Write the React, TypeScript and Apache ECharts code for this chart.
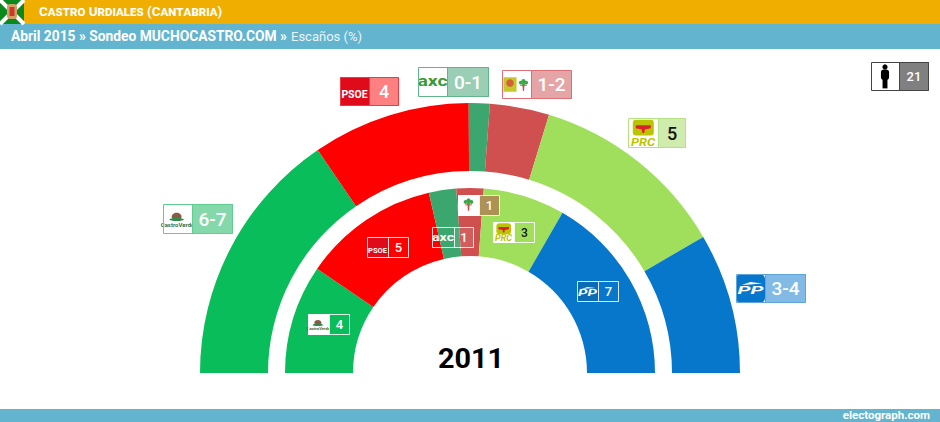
import React, { useEffect, useRef } from "react";
import * as echarts from "echarts";

const parties = ["Castro Verde", "PSOE", "AxC", "Otros", "PRC", "PP"];
const colors = ["#09BD5A", "#FF0000", "#3BA76F", "#D05050", "#A0DF5C", "#0777CC"];
const pollShare = [30.9, 18.9, 2.5, 7.1, 23.7, 16.8];
const seats2011 = [4, 5, 1, 1, 3, 7];
const pollLabels = ["6-7", "4", "0-1", "1-2", "5", "3-4"];
const title = "Castro Urdiales (Cantabria)";
const subtitleBold = "Abril 2015 » Sondeo MUCHOCASTRO.COM »";
const subtitleLight = "Escaños (%)";
const totalSeats = "21";
const baseYear = "2011";
const credit = "electograph.com";

const FONT = "Roboto, 'Noto Sans', sans-serif";
const ORANGE = "#F0AE00";
const BLUE = "#62B4CF";

type G = any;
const rect = (x: number, y: number, w: number, h: number, fill: string, stroke?: string, r = 0, lw = 1): G => ({
  type: "rect",
  shape: { x, y, width: w, height: h, r },
  style: { fill, stroke: stroke ?? "none", lineWidth: stroke ? lw : 0 },
  silent: true,
});
const text = (x: number, y: number, t: string, size: number, fill: string, o: any = {}): G => ({
  type: "text",
  x,
  y,
  scaleX: o.scaleX ?? 1,
  silent: true,
  style: {
    text: t,
    fill,
    align: o.align ?? "center",
    verticalAlign: "middle",
    ...(o.font
      ? { font: o.font }
      : {
          fontSize: size,
          fontFamily: FONT,
          fontWeight: o.weight ?? 700,
          fontStyle: o.italic ? "italic" : "normal",
        }),
  },
});
const circle = (cx: number, cy: number, r: number, fill: string): G => ({
  type: "circle",
  shape: { cx, cy, r },
  style: { fill },
  silent: true,
});
const poly = (pts: number[][], fill: string): G => ({
  type: "polygon",
  shape: { points: pts },
  style: { fill },
  silent: true,
});

// logos drawn in a w x h box with origin x,y
const logoPSOE = (x: number, y: number, w: number, h: number): G[] => [
  rect(x, y, w, h, "#DF0B1A"),
  text(x + w / 2, y + h * 0.62, "PSOE", h * 0.36, "#fff"),
];
const logoAxC = (x: number, y: number, w: number, h: number, small: boolean): G[] => [
  ...(small ? [] : [rect(x, y, w, h, "#fff")]),
  text(x + w / 2, y + h * (small ? 0.5 : 0.46), "axc", h * (small ? 0.52 : 0.48), small ? "#fff" : "#3A9A35", { scaleX: small ? 1.3 : 1.35 }),
];
const tree = (cx: number, cy: number, s: number): G[] => [
  poly([[cx - s * 0.12, cy], [cx + s * 0.12, cy], [cx + s * 0.06, cy + s * 0.75], [cx - s * 0.06, cy + s * 0.75]], "#E0454A"),
  rect(cx - s * 0.35, cy + s * 0.1, s * 0.7, s * 0.1, "#E0454A"),
  circle(cx - s * 0.3, cy - s * 0.15, s * 0.2, "#3CA548"),
  circle(cx + s * 0.3, cy - s * 0.15, s * 0.2, "#3CA548"),
  circle(cx, cy - s * 0.3, s * 0.22, "#3CA548"),
  circle(cx, cy, s * 0.16, "#3CA548"),
];
const logoOtros = (x: number, y: number, w: number, h: number): G[] => [
  rect(x, y, w, h, "#fff"),
  rect(x + 1.5, y + h * 0.25, h * 0.45, h * 0.5, "#C4C82A"),
  circle(x + 1.5 + h * 0.225, y + h * 0.45, h * 0.13, "#D2603A"),
  ...tree(x + w * 0.74, y + h * 0.48, h * 0.32),
];
const logoOtrosSmall = (x: number, y: number, w: number, h: number): G[] => [
  rect(x, y, w, h, "#fff"),
  ...tree(x + w / 2, y + h * 0.4, h * 0.46),
];
const logoPRC = (x: number, y: number, w: number, h: number): G[] => [
  rect(x, y, w, h, "#fff"),
  rect(x + w * 0.16, y + h * 0.06, w * 0.7, h * 0.52, "#BCC400", undefined, 3),
  poly(
    [[x + w * 0.26, y + h * 0.24], [x + w * 0.76, y + h * 0.24], [x + w * 0.76, y + h * 0.34], [x + w * 0.56, y + h * 0.38], [x + w * 0.54, y + h * 0.5], [x + w * 0.48, y + h * 0.5], [x + w * 0.46, y + h * 0.38], [x + w * 0.26, y + h * 0.34]],
    "#D8232A"
  ),
  text(x + w / 2, y + h * 0.79, "PRC", h * 0.39, "#BCC400", { italic: true, scaleX: 1.1 }),
];
const logoPP = (x: number, y: number, w: number, h: number, small: boolean): G[] => [
  small ? rect(x, y, w, h, "#0B6BB5") : rect(x, y, w, h, "#0777CC", undefined, 5),
  poly([[x + w * 0.2, y + h * 0.38], [x + w * 0.5, y + h * 0.28], [x + w * 0.9, y + h * 0.33], [x + w * 0.5, y + h * 0.36]], "#fff"),
  text(x + w / 2, y + h * 0.56, "PP", h * 0.4, "#fff", { italic: true, scaleX: 1.8 }),
];
const logoCV = (x: number, y: number, w: number, h: number): G[] => [
  rect(x, y, w, h, "#fff"),
  { type: "ellipse", shape: { cx: x + w * 0.47, cy: y + h * 0.42, rx: w * 0.17, ry: h * 0.13 }, style: { fill: "#8A5A44" }, silent: true },
  { type: "ellipse", shape: { cx: x + w * 0.47, cy: y + h * 0.52, rx: w * 0.25, ry: h * 0.05 }, style: { fill: "#2E8B4A" }, silent: true },
  text(x + w / 2, y + h * 0.68, "CastroVerde", h * 0.2, "#3B6E3A"),
];
const logoPerson = (x: number, y: number, w: number, h: number): G[] => [
  rect(x, y, w, h, "#fff"),
  circle(x + w / 2, y + h * 0.17, h * 0.09, "#000"),
  rect(x + w / 2 - h * 0.14, y + h * 0.26, h * 0.28, h * 0.36, "#000", undefined, 3),
  rect(x + w / 2 - h * 0.085, y + h * 0.55, h * 0.17, h * 0.36, "#000"),
];

// one label: logo cell + value cell
const badge = (b: {
  x: number; y: number; split: number; right: number; h: number;
  logo: (x: number, y: number, w: number, h: number) => G[];
  value: string; fill: string; border: string; color: string; size: number;
}): G[] => [
  ...b.logo(b.x, b.y, b.split - b.x, b.h),
  rect(b.split, b.y, b.right - b.split, b.h, b.fill),
  rect(b.x + 0.5, b.y + 0.5, b.right - b.x - 1, b.h - 1, "transparent", b.border),
  {
    type: "line",
    shape: { x1: b.split + 0.5, y1: b.y, x2: b.split + 0.5, y2: b.y + b.h },
    style: { stroke: b.border, lineWidth: 1 },
    silent: true,
  },
  text((b.split + b.right) / 2, b.y + b.h / 2, b.value, b.size, b.color, { weight: 500 }),
];

const W = "rgba(255,255,255,0.85)";

export default function App() {
  const ref = useRef<HTMLDivElement>(null);
  useEffect(() => {
    document.body.style.margin = "0";
    const chart = echarts.init(ref.current!, undefined, { renderer: "svg" });
    const ring = (values: number[], radius: [number, number]) => ({
      type: "pie",
      center: [470, 373],
      radius,
      startAngle: 180,
      endAngle: 0,
      clockwise: true,
      silent: true,
      label: { show: false },
      labelLine: { show: false },
      itemStyle: { borderWidth: 0 },
      emphasis: { disabled: true },
      data: values.map((value, i) => ({
        name: parties[i],
        value,
        itemStyle: { color: colors[i] },
      })),
    });
    const flag: G[] = [
      rect(0, 0, 24, 24, "#0A8A1E"),
      { type: "polyline", shape: { points: [[0, 0], [24, 24]] }, style: { stroke: "#fff", lineWidth: 4, fill: "none" }, silent: true },
      { type: "polyline", shape: { points: [[24, 0], [0, 24]] }, style: { stroke: "#fff", lineWidth: 4, fill: "none" }, silent: true },
      rect(7, 4, 10, 15, "#D2A062", undefined, 3),
      rect(9.5, 7, 5, 9, "#C8392B"),
    ];
    const graphics: G[] = [
      rect(0, 0, 940, 24, ORANGE),
      rect(0, 24, 940, 25, BLUE),
      rect(0, 409, 940, 13, BLUE),
      ...flag,
      text(39, 11.5, title, 14, "#fff", { align: "left", font: `small-caps 700 13.4px ${FONT}` }),
      text(11, 36, subtitleBold, 13.8, "#fff", { align: "left" }),
      text(291, 36, subtitleLight, 13, "#EAF5F9", { align: "left", weight: 400 }),
      text(930, 415.5, credit, 10.5, "#fff", { align: "right", scaleX: 1.1 }),
      text(471, 359, baseYear, 28, "#000", { weight: 700, scaleX: 1.03 }),

      ...badge({ x: 163, y: 204, split: 192, right: 233, h: 30, logo: logoCV, value: pollLabels[0], fill: "#85D8AA", border: "#5FCE90", color: "#fff", size: 19 }),
      ...badge({ x: 340, y: 77, split: 369, right: 399, h: 29, logo: logoPSOE, value: pollLabels[1], fill: "#FF8080", border: "#F03A40", color: "#fff", size: 18 }),
      ...badge({ x: 418, y: 67, split: 447, right: 489, h: 30, logo: (x, y, w, h) => logoAxC(x, y, w, h, false), value: pollLabels[2], fill: "#9BCFB5", border: "#60B58B", color: "#fff", size: 19 }),
      ...badge({ x: 502, y: 70, split: 531, right: 572, h: 29, logo: logoOtros, value: pollLabels[3], fill: "#E5A5A7", border: "#DC7074", color: "#fff", size: 19 }),
      ...badge({ x: 628, y: 118, split: 658, right: 686, h: 30, logo: logoPRC, value: pollLabels[4], fill: "#CFEBAD", border: "#B5E284", color: "#111", size: 18 }),
      ...badge({ x: 736, y: 274, split: 765, right: 806, h: 29, logo: (x, y, w, h) => logoPP(x, y, w, h, false), value: pollLabels[5], fill: "#82BAE5", border: "#5EA5DC", color: "#fff", size: 19 }),
      ...badge({ x: 871, y: 62, split: 899, right: 929, h: 29, logo: logoPerson, value: totalSeats, fill: "#808080", border: "#444", color: "#fff", size: 13 }),

      ...badge({ x: 308, y: 314, split: 329, right: 350, h: 21, logo: logoCV, value: String(seats2011[0]), fill: colors[0], border: W, color: "#fff", size: 13 }),
      ...badge({ x: 367, y: 237, split: 388, right: 409, h: 21, logo: logoPSOE, value: String(seats2011[1]), fill: colors[1], border: W, color: "#fff", size: 13 }),
      ...badge({ x: 432, y: 227, split: 454, right: 474, h: 21, logo: (x, y, w, h) => logoAxC(x, y, w, h, true), value: String(seats2011[2]), fill: "rgba(255,255,255,0.08)", border: W, color: "#fff", size: 13 }),
      ...badge({ x: 458, y: 195, split: 479, right: 500, h: 21, logo: logoOtrosSmall, value: String(seats2011[3]), fill: "#AD9155", border: W, color: "#fff", size: 13 }),
      ...badge({ x: 493, y: 222, split: 514, right: 535, h: 21, logo: logoPRC, value: String(seats2011[4]), fill: colors[4], border: W, color: "#111", size: 12 }),
      ...badge({ x: 577, y: 281, split: 598, right: 619, h: 21, logo: (x, y, w, h) => logoPP(x, y, w, h, true), value: String(seats2011[5]), fill: colors[5], border: W, color: "#fff", size: 13 }),
    ];
    chart.setOption({
      animation: false,
      backgroundColor: "#fff",
      series: [ring(pollShare, [202, 270]), ring(seats2011, [117, 185])],
      graphic: { elements: graphics.map((g) => ({ ...g, z: 10 })) },
    });
    return () => chart.dispose();
  }, []);
  return <div ref={ref} style={{ width: 940, height: 422 }} />;
}
